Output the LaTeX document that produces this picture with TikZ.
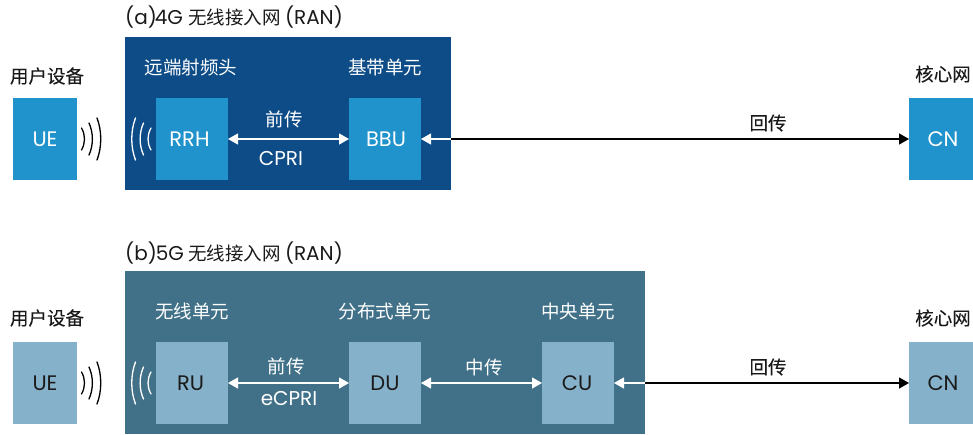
\documentclass[tikz,border=0pt]{standalone}
\usepackage{fontspec}
\setmainfont{Poppins}
\newfontfamily\cjk{Noto Sans CJK SC}
\newfontfamily\cjkm[FakeBold=0.25]{Noto Sans CJK SC}
\usetikzlibrary{arrows.meta}
\definecolor{panelA}{HTML}{0D4C87}
\definecolor{boxA}{HTML}{2093CC}
\definecolor{panelB}{HTML}{417188}
\definecolor{boxB}{HTML}{86B1CA}
\definecolor{ink}{HTML}{1A1A1A}
\tikzset{
  unitbox/.style={minimum width=72pt,minimum height=82pt,inner sep=0pt,outer sep=0pt,font=\fontsize{21}{24}\selectfont},
  endbox/.style={unitbox,minimum width=64pt},
  boxa/.style={fill=boxA,text=white},
  boxb/.style={fill=boxB,text=ink},
  capk/.style={inner sep=0pt,font=\cjkm\fontsize{18.5}{20}\selectfont,text=ink},
  capw/.style={inner sep=0pt,font=\cjk\fontsize{18.5}{20}\selectfont,text=white},
  lat/.style={inner sep=0pt,font=\fontsize{20}{24}\selectfont,text=white},
  ttl/.style={inner sep=0pt,anchor=west,text=ink,font=\fontsize{20}{24}\selectfont},
  wlink/.style={draw=white,line width=1.3pt,{Triangle[length=10pt,width=11pt]}-{Triangle[length=10pt,width=11pt]}},
  wback/.style={draw=white,line width=1.3pt,{Triangle[length=10pt,width=11pt]}-},
  kback/.style={draw=black,line width=1.3pt,-{Triangle[length=10pt,width=11pt]}},
  wave/.style={line width=1.3pt,line cap=round},
}
\newcommand{\wavesR}[2]{% x, y centre: emitted to the right
  \draw[wave,black] (#1+4.5,#2-11) .. controls (#1+8.5,#2-4) and (#1+8.5,#2+4) .. (#1+4.5,#2+11);
  \draw[wave,black] (#1+12,#2-16) .. controls (#1+16.5,#2-6) and (#1+16.5,#2+6) .. (#1+12,#2+16);
  \draw[wave,black] (#1+20,#2-21) .. controls (#1+25,#2-8) and (#1+25,#2+8) .. (#1+20,#2+21);
}
\newcommand{\wavesL}[2]{%
  \draw[wave,white] (#1-4.5,#2-11) .. controls (#1-8.5,#2-4) and (#1-8.5,#2+4) .. (#1-4.5,#2+11);
  \draw[wave,white] (#1-12,#2-16) .. controls (#1-16.5,#2-6) and (#1-16.5,#2+6) .. (#1-12,#2+16);
  \draw[wave,white] (#1-20,#2-21) .. controls (#1-25,#2-8) and (#1-25,#2+8) .. (#1-20,#2+21);
}
\begin{document}
\begin{tikzpicture}[x=1pt,y=-1pt]
\useasboundingbox (0,0) rectangle (973,434);
% panels
\node[fill=panelA,minimum width=326pt,minimum height=153pt,inner sep=0pt,outer sep=0pt] (pa) at (288,113.5) {};
\node[fill=panelB,minimum width=520pt,minimum height=163pt,inner sep=0pt,outer sep=0pt] (pb) at (385,352.5) {};
% titles
\node[ttl] (ta) at (125,17) {(a)\hspace{-2pt}4G\hspace{5pt}{\cjk\fontsize{18.5}{20}\selectfont 无线接入网}\hspace{4.5pt}(RAN)};
\node[ttl] (tb) at (125,253) {(b)\hspace{-1pt}5G\hspace{4pt}{\cjk\fontsize{18.5}{20}\selectfont 无线接入网}\hspace{4.5pt}(RAN)};
% top row
\node[endbox,boxa] (uea) at (45,139) {UE};
\node[unitbox,boxa] (rrh) at (192,139) {\hspace*{-5pt}RRH};
\node[unitbox,boxa] (bbu) at (385,139) {\hspace*{2pt}BBU};
\node[endbox,boxa] (cna) at (941,139) {\hspace*{4pt}CN};
% bottom row
\node[endbox,boxb] (ueb) at (45,383) {UE};
\node[unitbox,boxb] (ru) at (192,383) {\hspace*{-3pt}RU};
\node[unitbox,boxb] (du) at (385,383) {DU};
\node[unitbox,boxb] (cu) at (578,383) {\hspace*{-2pt}CU};
\node[endbox,boxb] (cnb) at (941,383) {\hspace*{4pt}CN};
% captions
\node[capk] (c1) at (47,76) {用户设备};
\node[capw] (c2) at (191,67) {远端射频头};
\node[capw] (c3) at (385,67) {基带单元};
\node[capk] (c4) at (943,74) {核心网};
\node[capk] (c5) at (47,318) {用户设备};
\node[capw] (c6) at (192,311) {无线单元};
\node[capw] (c7) at (385,311) {分布式单元};
\node[capw] (c8) at (578,311) {中央单元};
\node[capk] (c9) at (943,318) {核心网};
% links
\draw[wlink] (rrh.east) -- (bbu.west);
\draw[wlink] (ru.east) -- (du.west);
\draw[wlink] (du.east) -- (cu.west);
\coordinate (ea) at (pa.east |- bbu.east);
\coordinate (eb) at (pb.east |- cu.east);
\draw[wback] (bbu.east) -- (ea);
\draw[kback] (ea) -- (cna.west);
\draw[wback] (cu.east) -- (eb);
\draw[kback] (eb) -- (cnb.west);
% link labels
\node[capw] (l1) at (284,119) {前传};
\node[lat] (l2) at (281,158.5) {CPRI};
\node[capk] (l3) at (768,123) {回传};
\node[capw] (l4) at (286,366) {前传};
\node[lat] (l5) at (289,398.5) {eCPRI};
\node[capw] (l6) at (484,367) {中传};
\node[capk] (l7) at (768,367) {回传};
% radio waves
\wavesR{77}{139}
\wavesL{155.5}{139}
\wavesR{77}{383}
\wavesL{155.5}{383}
\end{tikzpicture}
\end{document}
